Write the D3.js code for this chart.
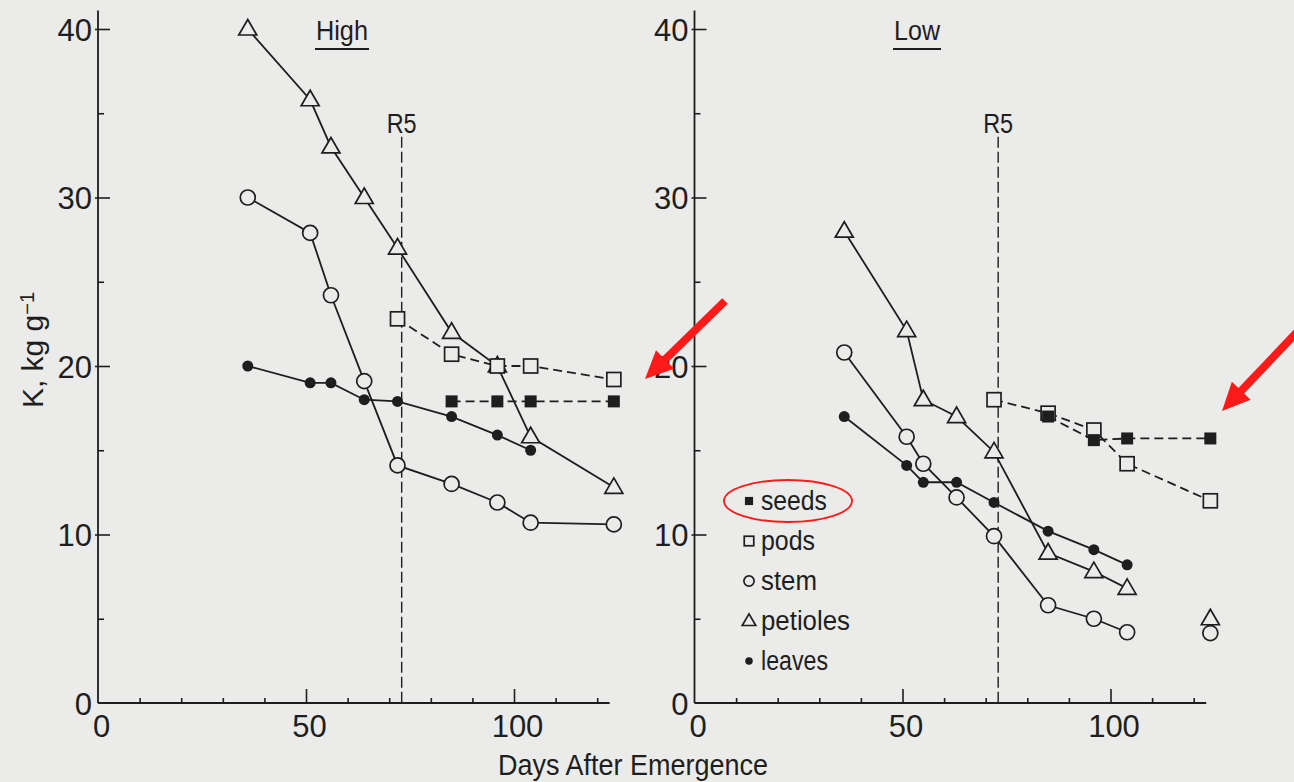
<!DOCTYPE html>
<html>
<head>
<meta charset="utf-8">
<script src="https://cdn.jsdelivr.net/npm/d3@7"></script>
<style>
  html, body { margin: 0; padding: 0; background: #ebebea; }
  svg { display: block; }
  text { font-family: "Liberation Sans", Arial, sans-serif; fill: #1e1e1e; }
</style>
</head>
<body>
<svg id="chart" width="1294" height="782"></svg>
<script>
// sampling days for each panel
var daysHigh = [36, 51, 56, 64, 72, 85, 96, 104, 124];
var daysLow  = [36, 51, 55, 63, 72, 85, 96, 104, 124];
var r5Day = 73;

// High K
var petiolesHigh = [40, 35.8, 33, 30, 27, 22, 20, 15.8, 12.8];
var stemHigh     = [30, 27.9, 24.2, 19.1, 14.1, 13, 11.9, 10.7, 10.6];
var leavesHigh   = [20, 19, 19, 18, 17.9, 17, 15.9, 15];
var podsHigh     = [22.8, 20.7, 20, 20, 19.2];     // from day 72
var seedsHigh    = [17.9, 17.9, 17.9, 17.9];       // from day 85

// Low K
var petiolesLow  = [28, 22.1, 18, 17, 14.9, 8.9, 7.8, 6.8];
var stemLow      = [20.8, 15.8, 14.2, 12.2, 9.9, 5.8, 5.0, 4.2];
var leavesLow    = [17, 14.1, 13.1, 13.1, 11.9, 10.2, 9.1, 8.2];
var podsLow      = [18, 17.2, 16.2, 14.2, 12.0];
var seedsLow     = [17, 15.6, 15.7, 15.7];
// lone points at the last harvest (not joined)
var petiolesLowLast = 5.0;
var stemLowLast     = 4.15;

var yTicks = [0, 10, 20, 30, 40];
var xTicks = [0, 50, 100];
var legendNames = ['seeds', 'pods', 'stem', 'petioles', 'leaves'];

var ink = '#1e1e1e', bg = '#ebebea';
var svg = d3.select('#chart');
svg.append('rect').attr('width', 1294).attr('height', 782).attr('fill', bg);

var y = d3.scaleLinear().domain([0, 40]).range([703, 29]);

function pairs(days, vals, from){
  return vals.map((v, i) => [days[i + from], v]);
}

function marker(g, kind, cx, cy, s){
  s = s || 1;
  if (kind == 'circle') {
    g.append('circle').attr('cx', cx).attr('cy', cy).attr('r', 7.5*s)
      .attr('fill', bg).attr('stroke', ink).attr('stroke-width', 1.7);
  } else if (kind == 'dot') {
    g.append('circle').attr('cx', cx).attr('cy', cy).attr('r', 5.5*s).attr('fill', ink);
  } else if (kind == 'square') {
    g.append('rect').attr('x', cx-7*s).attr('y', cy-7*s).attr('width', 14*s).attr('height', 14*s)
      .attr('fill', bg).attr('stroke', ink).attr('stroke-width', 1.7);
  } else if (kind == 'fsquare') {
    g.append('rect').attr('x', cx-6*s).attr('y', cy-6*s).attr('width', 12*s).attr('height', 12*s)
      .attr('fill', ink);
  } else if (kind == 'tri') {
    g.append('path').attr('transform', 'translate('+cx+','+cy+') scale('+s+')')
      .attr('d', 'M0,-9.5L9,6L-9,6Z')
      .attr('fill', bg).attr('stroke', ink).attr('stroke-width', 1.7/s).attr('stroke-linejoin', 'miter');
  }
}

function panel(x0, title, titleX, days, ser, lone){
  var x = d3.scaleLinear().domain([0, 123]).range([x0, x0 + 123*4.16]);
  var g = svg.append('g');

  // axes
  var ax = g.append('g').attr('transform', 'translate(0,' + y(0) + ')');
  ax.call(d3.axisBottom(x).tickValues(d3.range(10, 121, 10).filter(d => d % 50)).tickSizeInner(-5).tickSizeOuter(0).tickFormat(''));
  ax.call(g2 => g2.select('.domain').remove());
  var axM = g.append('g').attr('transform', 'translate(0,' + y(0) + ')');
  axM.call(d3.axisBottom(x).tickValues(xTicks).tickSizeInner(-14).tickSizeOuter(0).tickPadding(12));
  axM.select('.domain').remove();
  axM.selectAll('.tick').filter(d => d == 0).select('line').remove();
  axM.selectAll('text').style('font-size', '31px').attr('fill', ink).attr('x', 3);

  var ayMin = g.append('g').attr('transform', 'translate(' + x0 + ',0)');
  ayMin.call(d3.axisLeft(y).tickValues([5, 15, 25, 35]).tickSizeInner(-6).tickSizeOuter(0).tickFormat(''));
  ayMin.select('.domain').remove();
  var ay = g.append('g').attr('transform', 'translate(' + x0 + ',0)');
  ay.call(d3.axisLeft(y).tickValues(yTicks).tickSizeInner(-12).tickSizeOuter(0).tickPadding(6));
  ay.select('.domain').remove();
  ay.selectAll('.tick').filter(d => d == 0).select('line').remove();
  ay.selectAll('.tick line').attr('x1', -3);
  g.selectAll('.tick line').attr('stroke', ink).attr('stroke-width', 1.6);
  ay.selectAll('text').style('font-size', '31px').attr('fill', ink).attr('dy', '0.36em');

  g.append('line').attr('x1', x0).attr('x2', x0).attr('y1', y(0)).attr('y2', y(41.1))
    .attr('stroke', ink).attr('stroke-width', 1.8);
  g.append('line').attr('x1', x0).attr('x2', x(123)).attr('y1', y(0)).attr('y2', y(0))
    .attr('stroke', ink).attr('stroke-width', 1.8);

  // R5
  g.append('line').attr('x1', x(r5Day)).attr('x2', x(r5Day)).attr('y1', y(33.6)).attr('y2', y(0))
    .attr('stroke', ink).attr('stroke-width', 1.4).attr('stroke-dasharray', '11,4');
  g.append('text').attr('x', x(r5Day)).attr('y', 133).attr('text-anchor', 'middle')
    .attr('textLength', 30).attr('lengthAdjust', 'spacingAndGlyphs')
    .style('font-size', '28px').text('R5');

  // title
  var t = g.append('text').attr('x', titleX).attr('y', 40).attr('text-anchor', 'middle')
    .style('font-size', '28px').text(title);
  var tw = title == 'High' ? 52 : 46;
  t.attr('textLength', tw).attr('lengthAdjust', 'spacingAndGlyphs');
  g.append('line').attr('x1', titleX - tw/2 - 1).attr('x2', titleX + tw/2 + 1).attr('y1', 49).attr('y2', 49)
    .attr('stroke', ink).attr('stroke-width', 2);

  var line = d3.line().x(d => x(d[0])).y(d => y(d[1]));
  ser.forEach(function(s){
    g.append('path').attr('d', line(s.pts)).attr('fill', 'none').attr('stroke', ink)
      .attr('stroke-width', 1.8).attr('stroke-dasharray', s.dash ? '9,5' : null);
  });
  ser.forEach(function(s){
    s.pts.forEach(p => marker(g, s.kind, x(p[0]), y(p[1])));
  });
  (lone || []).forEach(p => marker(g, p.kind, x(p.day), y(p.v)));
}

panel(98, 'High', 342, daysHigh, [
  {kind: 'tri', pts: pairs(daysHigh, petiolesHigh, 0)},
  {kind: 'circle', pts: pairs(daysHigh, stemHigh, 0)},
  {kind: 'dot', pts: pairs(daysHigh, leavesHigh, 0)},
  {kind: 'square', dash: true, pts: pairs(daysHigh, podsHigh, 4)},
  {kind: 'fsquare', dash: true, pts: pairs(daysHigh, seedsHigh, 5)}
]);

panel(694.5, 'Low', 917, daysLow, [
  {kind: 'tri', pts: pairs(daysLow, petiolesLow, 0)},
  {kind: 'circle', pts: pairs(daysLow, stemLow, 0)},
  {kind: 'dot', pts: pairs(daysLow, leavesLow, 0)},
  {kind: 'square', dash: true, pts: pairs(daysLow, podsLow, 4)},
  {kind: 'fsquare', dash: true, pts: pairs(daysLow, seedsLow, 5)}
], [
  {kind: 'tri', day: daysLow[8], v: petiolesLowLast},
  {kind: 'circle', day: daysLow[8], v: stemLowLast}
]);

// legend
var lg = svg.append('g');
var lkinds = ['fsquare', 'square', 'circle', 'tri', 'dot'];
var lwidths = [66, 54, 56, 89, 67];
legendNames.forEach(function(n, i){
  var cy = 501 + i*40;
  marker(lg, lkinds[i], 749, cy, i == 3 ? 0.75 : 0.68);
  lg.append('text').attr('x', 761).attr('y', cy + 9).style('font-size', '27px')
    .attr('textLength', lwidths[i]).attr('lengthAdjust', 'spacingAndGlyphs').text(n);
});

// axis titles
svg.append('text').attr('x', 633).attr('y', 775).attr('text-anchor', 'middle')
  .style('font-size', '29px').attr('textLength', 270).attr('lengthAdjust', 'spacingAndGlyphs')
  .text('Days After Emergence');
var yl = svg.append('text').attr('transform', 'translate(43,350) rotate(-90)')
  .attr('text-anchor', 'middle').style('font-size', '30px');
yl.append('tspan').text('K, kg g');
yl.append('tspan').attr('dy', '-0.45em').style('font-size', '20px').text('\u22121');

// red annotations
var red = '#ff1a1a';
svg.append('ellipse').attr('cx', 788).attr('cy', 501).attr('rx', 64).attr('ry', 21)
  .attr('fill', 'none').attr('stroke', red).attr('stroke-width', 1.8);
function arrow(x1, y1, x2, y2){
  var a = Math.atan2(y2 - y1, x2 - x1), len = Math.hypot(x2 - x1, y2 - y1);
  var g = svg.append('g').attr('transform', 'translate(' + x2 + ',' + y2 + ') rotate(' + (a*180/Math.PI) + ')');
  g.append('line').attr('x1', -len).attr('x2', -20).attr('y1', 0).attr('y2', 0)
    .attr('stroke', red).attr('stroke-width', 8);
  g.append('path').attr('d', 'M0,0L-28,-13L-28,13Z').attr('fill', red);
}
arrow(725, 301, 645, 379);
arrow(1300, 329, 1222, 411);
</script>
</body>
</html>
